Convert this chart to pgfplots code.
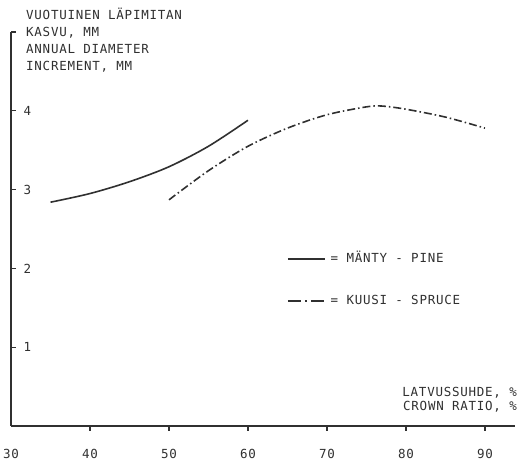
\documentclass[border=0pt]{standalone}
\usepackage{pgfplots}
\pgfplotsset{compat=1.18}
\usepackage{fontspec}
\setmainfont{DejaVu Sans}
\newfontfamily\letterfont[LetterSpace=6]{DejaVu Sans Mono}
\newcommand\lettering{\letterfont\fontsize{12.5}{14}\selectfont}
\definecolor{ink}{HTML}{303030}

\begin{document}
\begin{tikzpicture}[x=1pt,y=1pt]
\useasboundingbox (0,0) rectangle (520,463);
\begin{axis}[
  at={(11pt,37pt)}, anchor=south west,
  scale only axis, width=504pt, height=394pt,
  xmin=30, xmax=93.8, ymin=0, ymax=5,
  axis lines=left, axis line style={-, ink, line width=1.3pt},
  tick align=inside, major tick length=5pt,
  xtick={40,50,...,90},
  extra x ticks={30}, extra x tick style={major tick length=0pt},
  xtick style={ink, line width=1.3pt, yshift=-5pt},
  ytick={1,2,3,4,5}, yticklabels={1,2,3,4,{}},
  ytick style={ink, line width=1.3pt},
  yticklabel style={anchor=west, xshift=9pt},
  xticklabel style={yshift=-20pt},
  ticklabel style={font=\lettering, text=ink},
  /pgf/number format/assume math mode=true,
  legend image code/.code={\draw[#1] (0pt,0pt) -- (37pt,0pt);},
  legend cell align=left,
  legend style={draw=none, fill=none, at={(axis cs:64.55,2.22)}, anchor=north west,
    font=\lettering, text=ink, row sep=31pt,
    nodes={inner sep=0pt, text height=9pt, text depth=2pt},
    /tikz/every odd column/.append style={column sep=5pt}},
]
% pine
\addplot[ink, line width=1.6pt, smooth] coordinates {
  (35,2.84) (40,2.95) (45,3.10) (50,3.29) (55,3.55) (60,3.88)};
\addlegendentry{= MÄNTY - PINE}
% spruce
\addplot[ink, line width=1.6pt, smooth, dash pattern=on 8pt off 3pt on 1.5pt off 3pt,
  legend image post style={dash pattern=on 13pt off 4pt on 2pt off 4pt}] coordinates {
  (50,2.87) (55,3.24) (60,3.55) (65,3.78) (70,3.95) (75,4.05) (77,4.06)
  (80,4.02) (85,3.92) (90,3.78)};
\addlegendentry{= KUUSI - SPRUCE}
\end{axis}
\begin{scope}[every node/.style={anchor=base west, inner sep=0pt, font=\lettering, text=ink}]
\node at (26,443) {VUOTUINEN LÄPIMITAN};
\node at (26,426.3) {KASVU, MM};
\node at (26,409.6) {ANNUAL DIAMETER};
\node at (26,392.9) {INCREMENT, MM};
\end{scope}
\begin{scope}[every node/.style={anchor=base east, inner sep=0pt, font=\lettering, text=ink}]
\node at (517,66) {LATVUSSUHDE, \%};
\node at (517,52.5) {CROWN RATIO, \%};
\end{scope}
\end{tikzpicture}
\end{document}
